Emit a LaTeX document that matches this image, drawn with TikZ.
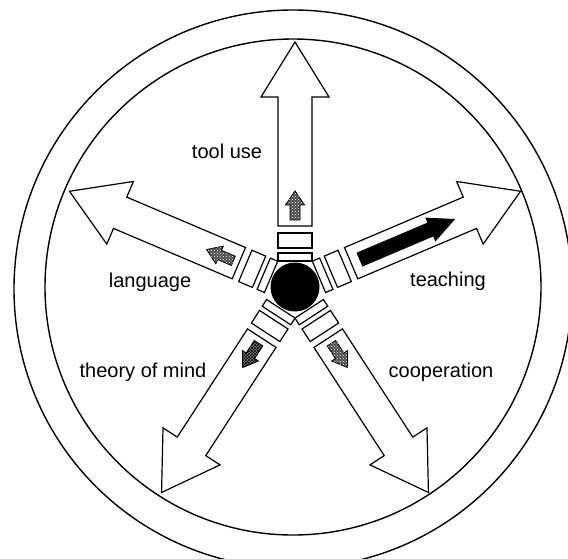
\documentclass[tikz,border=0pt]{standalone}
\usepackage{fontspec}
\setmainfont{Liberation Sans}
\usetikzlibrary{patterns}

\begin{document}
\begin{tikzpicture}[x=1pt,y=1pt,line width=1.2pt,
  ring/.style={draw,line width=1.4pt},
  hub/.style={circle,fill=black,minimum size=49pt,inner sep=0pt},
  lbl/.style={font=\fontsize{20}{22}\selectfont,inner sep=0pt},
  slot/.style={draw,fill=white,line width=1.2pt},
  spot/.style={draw,fill=black!70,line width=0.9pt,postaction={pattern=crosshatch dots,pattern color=white}},
  check/.style={draw,fill=black!50,line width=0.9pt,postaction={pattern=crosshatch,pattern color=black}}]
  \useasboundingbox (0,0) rectangle (568,-558);
  \draw[ring] (293,-289) circle (279);
  \draw[ring] (293,-287) circle (248);
  % the five arrows with their slots
  \foreach \a in {90,23,-57,-123,157}{
    \begin{scope}[shift={(295,-287)},rotate=\a]
      \draw[slot] (61,-17) -- (190,-17) -- (190,-34) -- (245,0) -- (190,34) -- (190,17) -- (61,17) -- cycle;
      \draw[slot] (26,-17) rectangle (34,17);
      \draw[slot] (39,-17) rectangle (54,17);
    \end{scope}
  }
  % small inner arrows
  \foreach \a in {90,-57,157}{
    \begin{scope}[shift={(295,-287)},rotate=\a]
      \draw[spot] (67,-5) -- (82,-5) -- (82,-9.5) -- (96,0) -- (82,9.5) -- (82,5) -- (67,5) -- cycle;
    \end{scope}
  }
  \begin{scope}[shift={(295,-287)},rotate=-123]
    \draw[check] (67,-5) -- (82,-5) -- (82,-9.5) -- (96,0) -- (82,9.5) -- (82,5) -- (67,5) -- cycle;
  \end{scope}
  \begin{scope}[shift={(295,-287)},rotate=23]
    \fill (70,-7.5) -- (147,-7.5) -- (147,-13) -- (174,0) -- (147,13) -- (147,7.5) -- (70,7.5) -- cycle;
  \end{scope}
  \node[hub] (hub) at (295,-287) {};
  \node[lbl] (tool) at (227,-151) {tool use};
  \node[lbl] (teach) at (448,-281) {teaching};
  \node[lbl] (lang) at (150,-282) {language};
  \node[lbl] (mind) at (143,-372) {theory of mind};
  \node[lbl] (coop) at (441,-372) {cooperation};
\end{tikzpicture}
\end{document}
